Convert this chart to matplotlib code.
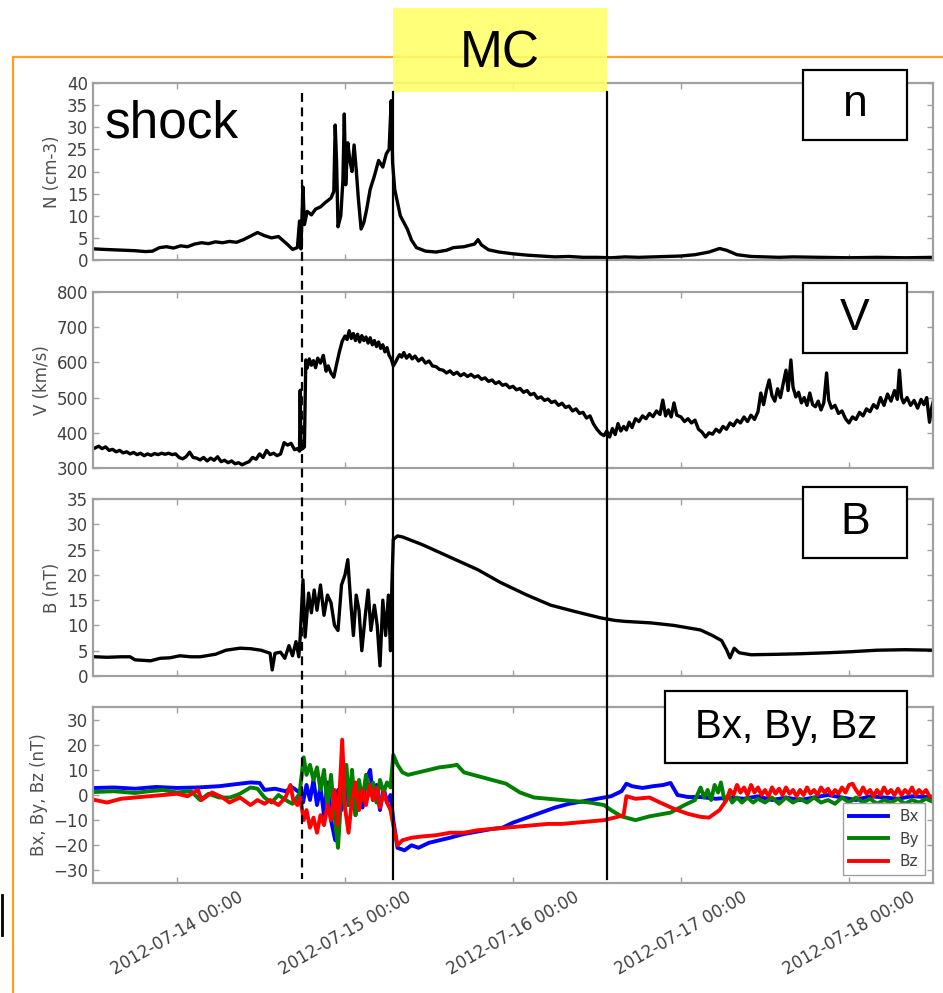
import matplotlib
matplotlib.use("Agg")
import matplotlib.pyplot as plt
import matplotlib.dates as mdates
import matplotlib.transforms as mtransforms
from matplotlib.lines import Line2D
from matplotlib.patches import Rectangle
from datetime import datetime, timedelta

plt.rcParams["font.family"] = "DejaVu Sans"

# time axis: hours after 2012-07-13 12:00
start = datetime(2012, 7, 13, 12, 0)
end = start + timedelta(hours=120)

shock_time = datetime(2012, 7, 14, 17, 54)
mc_start = datetime(2012, 7, 15, 6, 55)
mc_end = datetime(2012, 7, 16, 13, 24)

# density (cm-3)
n_hours = [0.3, 1.5, 3, 4.5, 6, 7.5, 8.5, 9.5, 10.5, 11.5, 12.5, 13.5, 14.5, 15.5, 16.5, 17.5,
           18.5, 19.5, 20.5, 21.5, 22.5, 23.5, 24.5, 25.5, 26.5, 27.0, 27.8, 28.5, 29.2, 29.5,
           29.7, 30.0, 30.2, 30.6, 31.2, 31.8, 32.5, 33.2, 34.0, 34.4, 34.6, 34.8, 35.0, 35.4,
           35.7, 35.9, 36.1, 36.4, 36.7, 37.0, 37.3, 37.6, 37.9, 38.3, 38.7, 39.1, 39.6, 40.2,
           40.8, 41.4, 41.9, 42.3, 42.6, 42.8, 43.1, 43.5, 43.9, 44.4, 44.9, 45.5, 46.2, 47.5,
           49, 50.5, 51.5, 53, 54.5, 55, 55.5, 56.5, 58, 60, 62, 64, 66, 68, 70, 72, 74, 76, 78,
           80, 82, 84, 86, 88, 89.5, 90.5, 92, 94, 96, 98, 100, 104, 108, 112, 116, 120.2]
n_vals = [2.5, 2.4, 2.3, 2.2, 2.1, 1.9, 2.0, 2.8, 3.0, 2.7, 3.2, 3.0, 3.6, 3.9, 3.7, 4.1,
          3.9, 4.2, 4.0, 4.6, 5.4, 6.2, 5.5, 5.0, 5.3, 4.6, 3.5, 2.4, 2.8, 8.8,
          2.5, 16.5, 8.0, 11.0, 10.2, 11.5, 12.0, 13.0, 14.0, 15.5, 30.5, 22.0, 7.5, 10.0,
          18.0, 33.0, 17.0, 26.5, 22.5, 20.0, 26.0, 20.5, 14.0, 7.0, 8.5, 11.5, 16.0, 19.0,
          22.5, 21.0, 24.0, 25.0, 36.0, 22.0, 16.0, 13.0, 10.0, 8.5, 7.0, 4.5, 2.8, 2.0,
          1.8, 2.2, 2.8, 3.0, 3.6, 4.6, 3.4, 2.3, 1.8, 1.4, 1.1, 0.9, 0.7, 0.8, 0.6, 0.6, 0.5, 0.7, 0.6,
          0.7, 0.8, 0.9, 1.2, 1.8, 2.6, 2.2, 1.2, 0.8, 0.7, 0.6, 0.7, 0.6, 0.5, 0.6, 0.5, 0.6]

# speed (km/s)
v_hours = [0.3, 0.8, 1.3, 1.8, 2.3, 2.8, 3.3, 3.8, 4.3, 4.8, 5.3, 5.8, 6.3, 6.8, 7.3, 7.8, 8.3,
           8.8, 9.3, 9.8, 10.3, 10.8, 11.3, 11.8, 12.3, 12.8, 13.3, 13.8, 14.3, 14.8, 15.3, 15.8,
           16.3, 16.8, 17.3, 17.8, 18.3, 18.8, 19.3, 19.8, 20.3, 20.8, 21.3, 21.8, 22.3, 22.8,
           23.3, 23.8, 24.3, 24.8, 25.3, 25.8, 26.3, 26.8, 27.3, 27.8, 28.3, 28.8, 29.2, 29.5,
           29.6, 29.7, 30.0, 30.2, 30.4, 30.6, 30.9, 31.2, 31.5, 31.8, 32.1, 32.5, 32.9, 33.3,
           33.6, 34.0, 34.4, 34.8, 35.2, 35.6, 36.0, 36.3, 36.6, 36.9, 37.2, 37.5, 37.8, 38.1,
           38.4, 38.7, 39.0, 39.3, 39.6, 39.9, 40.2, 40.5, 40.8, 41.1, 41.4, 41.7, 42.0, 42.3,
           42.6, 42.9, 43.2, 43.5, 43.8, 44.1, 44.4, 44.8, 45.2, 45.6, 46.0, 46.5, 47.0, 47.5,
           48.0, 48.5, 49.0, 49.5, 50.0, 50.5, 51.0, 51.5, 52.0, 52.5, 53.0, 53.5, 54.0, 54.5,
           55.0, 55.5, 56.0, 56.5, 57.0, 57.5, 58.0, 58.5, 59.0, 59.5, 60.0, 60.5, 61.0, 61.5,
           62.0, 62.5, 63.0, 63.5, 64.0, 64.5, 65.0, 65.5, 66.0, 66.5, 67.0, 67.5, 68.0, 68.5,
           69.0, 69.5, 70.0, 70.5, 71.0, 71.5, 72.0, 72.5, 73.0, 73.4, 73.8, 74.2, 74.6, 75.0,
           75.4, 75.8, 76.2, 76.6, 77.0, 77.5, 78.0, 78.5, 79.0, 79.5, 80.0, 80.5, 81.0, 81.4,
           81.8, 82.2, 82.6, 83.0, 83.4, 84.0, 84.5, 85.0, 85.5, 86.0, 86.5, 87.0, 87.5, 88.0,
           88.5, 89.0, 89.5, 90.0, 90.5, 91.0, 91.5, 92.0, 92.5, 93.0, 93.5, 94.0, 94.5, 95.0,
           95.4, 95.8, 96.2, 96.6, 97.0, 97.4, 97.8, 98.2, 98.6, 99.0, 99.3, 99.7, 100.0, 100.4,
           100.8, 101.2, 101.6, 102.0, 102.4, 102.8, 103.2, 103.6, 104.0, 104.4, 104.8, 105.1,
           105.5, 106.0, 106.5, 107.0, 107.5, 108.0, 108.5, 109.0, 109.5, 110.0, 110.5, 111.0,
           111.5, 112.0, 112.5, 113.0, 113.5, 114.0, 114.5, 114.9, 115.2, 115.5, 115.8, 116.3,
           116.8, 117.3, 117.8, 118.3, 118.7, 119.1, 119.5, 119.8, 120.2]
v_vals = [357, 362, 355, 360, 350, 353, 346, 350, 343, 346, 340, 344, 338, 342, 335, 340, 336,
          341, 338, 342, 339, 342, 338, 340, 330, 326, 332, 345, 330, 328, 323, 330,
          320, 328, 322, 332, 318, 322, 315, 320, 312, 315, 309, 314, 318, 330,
          325, 340, 330, 350, 338, 342, 335, 340, 372, 365, 370, 352, 355, 348,
          521, 352, 356, 360, 607, 584, 610, 592, 605, 585, 612, 598, 620, 575,
          590, 570, 558, 595, 630, 660, 675, 665, 690, 668, 682, 662, 680, 658,
          676, 662, 672, 655, 670, 650, 662, 645, 658, 640, 650, 630, 642, 620,
          610, 590, 600, 612, 622, 615, 628, 612, 622, 610, 618, 604, 612, 598,
          604, 590, 588, 580, 578, 570, 576, 566, 572, 562, 568, 560, 566, 558,
          562, 552, 556, 546, 550, 540, 545, 535, 538, 528, 532, 522, 526, 515,
          520, 508, 512, 498, 502, 492, 496, 486, 490, 478, 484, 472, 476, 462,
          468, 455, 458, 442, 448, 425, 410, 398, 392, 405, 388, 412, 395, 426,
          405, 418, 408, 430, 415, 440, 432, 448, 440, 455, 446, 462, 452, 493,
          448, 465, 445, 485, 450, 445, 432, 440, 428, 436, 410, 402, 388, 400,
          396, 410, 402, 418, 410, 428, 420, 436, 428, 445, 432, 450, 438, 460,
          513, 480, 520, 550, 505, 490, 525, 500, 540, 578, 520, 607, 530, 502,
          515, 485, 500, 478, 513, 480, 474, 490, 465, 485, 570, 493,
          470, 478, 455, 462, 440, 428, 445, 438, 458, 448, 468, 460,
          480, 470, 500, 478, 510, 490, 520, 495, 578, 500, 485, 500,
          478, 492, 470, 495, 480, 500, 430, 470, 502]

# field magnitude (nT)
b_hours = [0.3, 2, 4, 5.3, 6, 8.2, 9.6, 11, 12.4, 14, 15.3, 17.5, 19, 21, 22.5, 24, 25.3, 25.6,
           26, 26.8, 27.4, 28, 28.5, 29, 29.4, 29.6, 30.0, 30.3, 30.8, 31.2, 31.6, 32.0, 32.5,
           33.0, 33.5, 34.0, 34.5, 35.0, 35.5, 36.0, 36.4, 36.8, 37.2, 37.6, 38.0, 38.4, 38.9,
           39.3, 39.7, 40.2, 40.6, 41.0, 41.4, 41.8, 42.2, 42.5, 42.7, 42.9, 43.5, 44.2, 47, 51,
           55, 58.2, 62, 65.4, 69, 72.5, 74.5, 76, 79.7, 83, 86.8, 88.5, 89.8, 90.5, 91, 91.6,
           92.3, 94, 98, 101, 105, 108.3, 112, 116, 120.2]
b_vals = [3.8, 3.7, 3.8, 3.8, 3.2, 3.0, 3.5, 3.6, 4.0, 3.8, 3.8, 4.3, 5.1, 5.5, 5.4, 5.1, 4.5, 1.2,
          4.5, 4.7, 3.5, 6.0, 4.0, 6.8, 3.8, 7.7, 19.0, 7.7, 16.4, 12.5, 17.0, 13.0, 18.0,
          12.0, 16.0, 14.5, 10.0, 9.0, 18.0, 20.0, 23.0, 15.0, 8.0, 16.0, 13.0, 5.0, 12.0,
          17.0, 9.0, 14.0, 10.0, 2.0, 15.0, 8.0, 16.0, 5.0, 18.0, 27.0, 27.7, 27.5, 26.0, 23.5,
          21.0, 18.5, 16.0, 14.0, 12.7, 11.5, 11.0, 10.8, 10.5, 10.0, 9.1, 8.0, 7.0, 5.2, 3.6, 5.5,
          4.6, 4.2, 4.3, 4.4, 4.6, 4.8, 5.1, 5.2, 5.1]

# field components (nT)
bx_hours = [0.3, 3, 6, 9, 12, 15, 18, 21, 22.5, 23.8, 24.5, 26, 27.5, 28.5, 29.5, 30, 30.5, 31,
            31.5, 32, 32.5, 33, 33.5, 34, 34.6, 35, 35.5, 36, 36.5, 37, 37.5, 38, 38.5, 39,
            39.6, 40, 40.5, 41, 41.5, 42, 42.5, 42.9, 43.5, 44.5, 45.5, 46.5, 48, 49.5, 51, 53,
            55, 57, 58.5, 60, 62, 64, 66, 68, 70, 72, 74, 75.5, 76.2, 77, 78.5, 80, 81.5, 82.5,
            83.5, 85, 86.8, 89, 91, 93, 95, 97, 99, 101, 103, 105, 107, 109, 111, 113, 115, 117, 120.2]
bx_vals = [2.8, 3.0, 2.5, 3.2, 2.8, 3.0, 3.5, 4.5, 5.0, 4.8, 2.0, 2.5, 1.5, 3.0, 1.0, -3, 4, -2,
           6, -4, 3, -8, 5, -10, -18, 2, -6, 8, -4, 6, -8, 3, -5, 6,
           10, -2, 4, -6, 3, -3, 0, -10, -21, -22, -20, -21, -19, -18, -17, -15.5,
           -14.5, -13.5, -13, -11, -9, -7, -5, -3.5, -2.5, -1.5, -0.5, 1.5, 4.5, 3.5, 2.8, 3.5, 4, 4.8,
           0, -0.8, -0.8, -1.5, -1, -1.5, -0.5, -2, -1, -2, -1, 0, -1, -2, -0.5, -1, -1.5, -0.5, -1]

by_hours = [0.3, 3, 6, 8, 10, 12, 14, 15.3, 16.5, 18, 19.6, 21, 22.5, 23.5, 24.5, 25.5, 26.5,
            27.5, 28.5, 29.5, 30.1, 30.5, 31, 31.5, 32, 32.5, 33, 33.5, 34, 34.5, 35, 35.4,
            35.8, 36.2, 36.6, 37, 37.5, 38, 38.5, 39, 39.5, 40, 40.5, 41, 41.5, 42, 42.5, 42.9,
            43.5, 44.2, 45, 46.5, 48, 49.5, 51, 52, 53, 55, 57, 59, 61, 63, 65, 67, 69, 71, 73,
            74, 75.5, 77.5, 79.5, 82.5, 84.5, 86, 86.8, 87.3, 87.8, 88.3, 88.8, 89.3, 89.7, 90.2,
            90.8, 91.3, 92, 92.7, 93.5, 94.3, 95, 96, 97, 98, 99, 100, 101, 102, 103, 104, 105,
            106, 107, 108, 109, 110, 111, 112, 113, 114, 115, 116, 117, 118, 119, 120.2]
by_vals = [1.2, 1.5, 0.8, 1.5, 2.0, 1.0, 1.5, -2.0, 0.5, -1.0, -1.0, 0.5, 3.0, 2.5, -1.0, -3.0, 0.0,
           -2.0, -3.5, 0.5, 15, 8, 12, 6, 11, 2, 10, -5, 8, -8, -21, -3,
           5, 12, -4, 10, -8, 6, -2, 8, 0, 5, -3, 6, 1, 5, 3, 16,
           12, 9, 8, 9, 10, 11, 11.5, 12, 9, 7.5, 6, 4.5, 1, -1, -1.5, -2, -2.5, -3, -4,
           -6, -8.5, -10, -8.5, -7, -4, -2, 3, -1, 2, -2, 4, 1, 5, -2,
           0, -3, -1, -3, -1, -3, -1.5, -3, -1, -3.5, -1, -3, -1.5, -3, -1, -3, -2,
           -3.5, -1, -3, -1, -3, -1.5, -3.5, -2, -3, -1.5, -3.5, -2, -3, -1.5, -3]

bz_hours = [0.3, 2, 4, 6, 8, 10, 12, 13.5, 15, 15.5, 17, 18.5, 19.5, 21, 22.5, 23.5, 24.5, 25.3,
            26.5, 27.5, 28.2, 28.6, 29.2, 29.6, 30.1, 30.5, 31, 31.5, 32, 32.5, 33, 33.5, 34,
            34.5, 35, 35.6, 36, 36.5, 37, 37.5, 38, 38.5, 39, 39.5, 40, 40.5, 41, 41.5, 42, 42.5,
            42.9, 43.5, 44.2, 45.5, 47, 49, 51, 53, 55, 57, 59, 61, 63, 65, 67, 69, 71, 73, 74.5,
            75.8, 76.2, 77.5, 79.5, 81, 83, 85, 86.8, 88, 89.5, 90.5, 91, 91.5, 92, 92.5, 93,
            93.5, 94, 94.5, 95, 95.5, 96, 96.5, 97, 97.5, 98, 98.5, 99, 99.5, 100, 100.5, 101,
            101.5, 102, 102.5, 103, 103.5, 104, 104.5, 105, 105.5, 106, 106.5, 107, 107.5, 108,
            108.5, 109, 109.5, 110, 110.5, 111, 111.5, 112, 112.5, 113, 113.5, 114, 114.5, 115,
            115.5, 116, 116.5, 117, 117.5, 118, 118.5, 119, 119.5, 120.2]
bz_vals = [-2, -3, -1.5, -1, -0.5, 0, 0.5, -0.5, 2, -2, 1, -1, -3, -1, -4, -2, -3.5, -2,
           -4, -1, 4, -2, -4, -1, -10, -6, -13, -9, -15, -8, -12, -4, -10,
           2, -12, 22, -5, -15, -2, 5, -6, 2, -4, 4, -2, 3, -5, 1, -3, -6,
           -12, -20, -18, -17, -16.5, -16, -15, -15, -14, -13.5, -13, -12.5, -12, -11.5, -11.5, -11, -10.5, -10, -9,
           -8, -0.5, -1.5, -1, -3, -5.5, -7.5, -8.7, -9, -6, -2, 2, 0, 4, 1, 3,
           0, 4, 1, 3, 0, 2, -0.5, 3, 0.5, 2.5, 0, 3, 0.5, 2, -0.5, 2,
           0, 3, 0.5, 2, 0, 3, 1, 2.5, 0, 2, 0.5, 3, 1, 4,
           4.5, 2, 0, 3, 0.5, 2, -0.5, 2, 0, 3, 0.5, 2, 0, 2.5,
           0, 2, 0.5, 3, 0, 2, 0.5, 2, -0.5, -0.8]

ylabels = ["N (cm-3)", "V (km/s)", "B (nT)", "Bx, By, Bz (nT)"]
ylims = [(0, 40), (300, 800), (0, 35), (-35, 35)]
yticks = [range(0, 41, 5), range(300, 801, 100), range(0, 36, 5), range(-30, 31, 10)]
panel_names = ["n", "V", "B", "Bx, By, Bz"]


def to_times(hrs):
    return [start + timedelta(hours=h) for h in hrs]


W, H = 943, 993
fig = plt.figure(figsize=(W / 100, H / 100), dpi=100)


def fx(x):
    return x / W


def fy(y):
    return 1 - y / H


# panel frames in pixels (top, bottom)
panels = [(83, 260), (292, 468), (499, 676), (707, 883)]
axes = []
for i, (top, bot) in enumerate(panels):
    ax = fig.add_axes([fx(93), fy(bot), fx(933) - fx(93), (bot - top) / H])
    ax.set_xlim(start, end)
    ax.set_ylim(*ylims[i])
    ax.set_yticks(list(yticks[i]))
    ax.set_ylabel(ylabels[i], fontsize=12, color="#505050")
    ax.xaxis.set_major_locator(mdates.DayLocator())
    ax.xaxis.set_major_formatter(mdates.DateFormatter("%Y-%m-%d %H:%M"))
    ax.tick_params(direction="in", top=True, right=True, length=4, width=1,
                   color="#a0a0a0", labelsize=12, labelcolor="#404040")
    for sp in ax.spines.values():
        sp.set_color("#a0a0a0")
        sp.set_linewidth(1.6)
    if i < 3:
        ax.tick_params(labelbottom=False)
    axes.append(ax)

ax1, ax2, ax3, ax4 = axes
ax1.plot(to_times(n_hours), n_vals, color="k", lw=2.4)
ax2.plot(to_times(v_hours), v_vals, color="k", lw=2.4)
ax3.plot(to_times(b_hours), b_vals, color="k", lw=2.4)
ax4.plot(to_times(bx_hours), bx_vals, color="#0000ff", lw=2.8, label="Bx")
ax4.plot(to_times(by_hours), by_vals, color="#008000", lw=2.8, label="By")
ax4.plot(to_times(bz_hours), bz_vals, color="#ff0000", lw=2.8, label="Bz")
ax4.tick_params(axis="x", labelrotation=30)
leg = ax4.legend(loc="lower right", fontsize=11, fancybox=False, edgecolor="#a0a0a0",
                 framealpha=1, handlelength=2.5)
for t in leg.get_texts():
    t.set_color("#404040")

# orange frame and small mark at the left edge
fig.add_artist(Line2D([fx(13), fx(13), 1.0], [0.0, fy(57), fy(57)],
                      color="#ffa01e", lw=1.6, zorder=2))
fig.add_artist(Line2D([fx(2), fx(2)], [fy(895), fy(935)], color="k", lw=2, zorder=2))

# event lines across all panels
trans = mtransforms.blended_transform_factory(ax4.transData, fig.transFigure)
xs = mdates.date2num(shock_time)
x0 = mdates.date2num(mc_start)
x1 = mdates.date2num(mc_end)
fig.add_artist(Line2D([xs, xs], [fy(93), fy(879)], transform=trans, color="k",
                      lw=1.6, ls=(0, (4, 2.5)), zorder=4))
for x in (x0, x1):
    fig.add_artist(Line2D([x, x], [fy(92), fy(879)], transform=trans, color="k",
                          lw=1.6, zorder=4))

# MC banner
fig.add_artist(Rectangle((x0, fy(92)), x1 - x0, (92 - 8) / H, transform=trans,
                         facecolor="#ffff66", alpha=0.88, edgecolor="none", zorder=3))
fig.text((x0 + x1) / 2, fy(68), "MC", transform=trans, ha="center", va="baseline",
         fontsize=37, family="Liberation Sans", zorder=5)

fig.text(fx(105), fy(137), "shock", ha="left", va="baseline", fontsize=37,
         family="Liberation Sans", zorder=5)

# panel name boxes
name_boxes = [(803, 70, 907, 140), (803, 283, 907, 353), (803, 487, 907, 558), (665, 691, 907, 763)]
name_sizes = [32, 32, 32, 29]
for name, (bx0, by0, bx1, by1), fs in zip(panel_names, name_boxes, name_sizes):
    fig.add_artist(Rectangle((fx(bx0), fy(by1)), fx(bx1) - fx(bx0), (by1 - by0) / H,
                             transform=fig.transFigure, facecolor="white", edgecolor="k",
                             lw=1.6, zorder=5))
    fig.text((fx(bx0) + fx(bx1)) / 2, (fy(by0) + fy(by1)) / 2, name, ha="center",
             va="center", fontsize=fs, family="Liberation Sans", zorder=6)

fig.savefig("out.png", dpi=100)
